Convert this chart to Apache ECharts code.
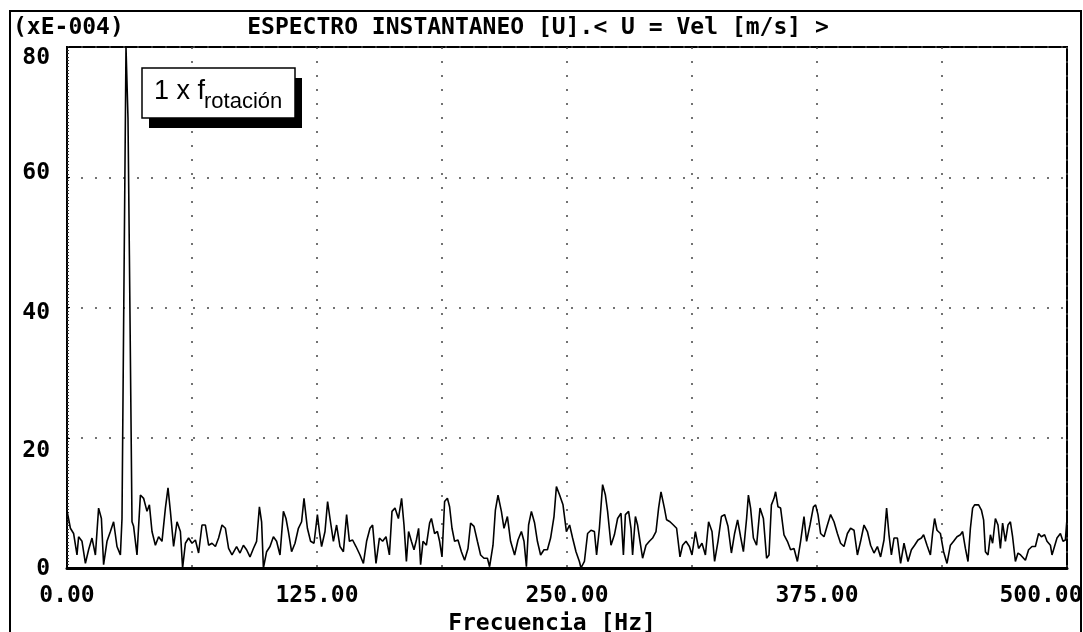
<!DOCTYPE html>
<html><head><meta charset="utf-8">
<script src="https://cdn.jsdelivr.net/npm/echarts@6/dist/echarts.min.js"></script>
<style>html,body{margin:0;padding:0;background:#fff}#c{width:1083px;height:632px}</style>
</head><body><div id="c"></div>
<script>
const titleText = 'ESPECTRO INSTANTANEO [U].< U = Vel [m/s] >';
const yUnitLabel = '(xE-004)';
const xAxisName = 'Frecuencia [Hz]';
const annotationMain = '1 x f';
const annotationSub = 'rotación';
const xTickLabels = [0, 125, 250, 375, 500];
const yTickLabels = [0, 20, 40, 60, 80];

const freqs = [
  0, 1.7, 3.3, 5, 5.8, 7.5, 9.2, 10.8, 12.5, 14.2, 15.8, 17.2, 18.3, 20, 21.7, 23.3, 25, 26.7, 27.5,
  28.3, 29.5, 30.5, 31.2, 32.5, 33.3, 35, 36.7, 38.3, 40, 41.2, 42.5, 44.2, 45.8, 47.5, 49.2, 50.5,
  51.7, 53.3, 55, 56.7, 57.8, 59.2, 60.8, 62.5, 64.2, 65.8, 67.5, 69.2, 70.8, 72.5, 74.2, 75.8, 77.5,
  79.2, 80.8, 82.5, 84.8, 86.5, 88.2, 89.8, 91.5, 93.2, 94.8, 96.2, 97.3, 98.2, 99.8, 101.5, 103.2,
  104.8, 106.5, 108.2, 109.5, 110.7, 112.3, 114, 115.7, 117.3, 118.5, 120.2, 121.8, 123.5, 125.2,
  126.2, 127.3, 129, 130.3, 131.5, 133.2, 134.8, 136.5, 138.2, 139.8, 141.2, 142.8, 144.5, 146.5,
  148.2, 149.8, 151.5, 152.8, 154.5, 156.2, 157.8, 159.5, 161.2, 162.5, 164, 165.7, 167.3, 168.5,
  169.7, 170.8, 172.2, 173.5, 174.7, 175.8, 176.8, 178, 179.7, 181.3, 182.2, 183.8, 185.2, 186.3,
  187.5, 188.8, 190.2, 191.3, 192.5, 193.8, 195.5, 197.2, 198.8, 200.5, 201.8, 203.5, 205.2, 206.8,
  208.5, 210.2, 211.3, 213, 214.2, 215.5, 217.2, 218.5, 220.2, 221.8, 223.8, 225.5, 227.2, 228.5,
  229.7, 230.8, 232.2, 233.8, 235.2, 236.8, 238.5, 240.2, 241.8, 243.5, 244.7, 246.3, 248, 249.7,
  251.3, 252.8, 254.5, 256.2, 257, 258.7, 260.3, 262, 263.7, 264.8, 266.2, 267.8, 269.2, 270.3, 272,
  273.7, 275.3, 277, 278.2, 279.2, 280.8, 282, 282.8, 284.2, 285.3, 286.5, 287.8, 289.5, 291.2,
  292.8, 294.5, 295.8, 297, 298.7, 299.8, 301.5, 303.2, 304.8, 306.5, 307.8, 309.5, 311.2, 312.5,
  314.2, 315.8, 317.5, 319.2, 320.8, 322.5, 323.8, 325.5, 327.2, 328.8, 330.5, 332.2, 333.8, 335.3,
  336.8, 338.2, 339.8, 340.7, 341.8, 343.2, 344.8, 346.5, 348.2, 349.8, 351, 352.2, 353.5, 354.3,
  355.5, 356.8, 358.5, 360.2, 361.8, 363.5, 365.2, 366.8, 368.5, 369.8, 371.5, 373.2, 374.3, 375.5,
  376.8, 378.5, 380.2, 381.8, 383.5, 385.2, 386.8, 388.5, 390.2, 391.8, 393.5, 395.2, 396.8, 398.5,
  400.2, 401.8, 403.5, 405.2, 406.8, 408.5, 409.8, 411, 412.2, 413.5, 415.2, 416.8, 418.5, 420.5,
  422.2, 423.8, 425.5, 427.2, 428.3, 430, 431.7, 432.8, 433.8, 435, 436.7, 438.3, 440, 441.7, 443.3,
  445, 446.7, 447.8, 449.2, 450.5, 451.7, 452.8, 453.8, 455.8, 457.2, 458.3, 459.2, 460.5, 461.7,
  462.8, 464.2, 465.5, 466.7, 467.8, 469.2, 470.5, 471.7, 472.8, 474.2, 475.5, 476.8, 477.8, 479.2,
  480.8, 482.5, 484.2, 485.8, 487.2, 488.8, 490, 491.7, 492.5, 493.3, 495, 496.7, 498, 499.2, 500
];
const amps = [
  8.8, 6.1, 5.3, 2.0, 4.8, 4.1, 0.7, 2.8, 4.6, 2.0, 9.2, 7.6, 0.5, 4.1, 5.6, 7.1, 3.3, 2.0, 7.6,
  37, 80, 69, 48, 7.1, 6.4, 2.0, 11.2, 10.7, 8.7, 9.7, 5.6, 3.5, 4.8, 4.1, 9.2, 12.3,
  8.7, 3.3, 7.1, 5.6, 0, 3.8, 4.6, 3.8, 4.3, 2.3, 6.6, 6.6, 3.5, 3.8, 3.3, 4.6, 6.6,
  6.1, 3.0, 2.0, 3.3, 2.3, 3.5, 2.8, 1.7, 3.0, 4.1, 9.4, 7.1, 0, 2.5, 3.3, 4.8,
  4.1, 2.0, 8.7, 7.6, 5.6, 2.5, 3.8, 6.1, 7.1, 10.7, 6.1, 4.1, 3.8, 8.2,
  5.6, 3.3, 5.6, 10.2, 7.6, 4.1, 6.6, 3.3, 2.5, 8.2, 4.1, 4.3, 3.3, 2.0,
  0.7, 4.1, 6.1, 6.6, 0.7, 4.6, 4.1, 4.8, 2.0, 8.7, 9.2, 7.6, 10.7, 6.6,
  1.0, 5.6, 4.1, 2.8, 4.3, 6.1, 0.5, 4.1, 3.5, 6.9, 7.6, 5.3, 5.6, 4.1,
  1.7, 10.2, 10.7, 9.4, 6.1, 4.1, 4.3, 2.5, 1.2, 3.0, 6.9, 6.4, 4.1, 2.0,
  1.5, 1.5, 0.2, 3.5, 8.9, 11.2, 8.7, 6.1, 7.9, 4.1, 2.0, 4.3, 5.6, 4.1,
  0.2, 6.6, 8.7, 6.9, 4.1, 2.0, 2.8, 2.8, 4.6, 7.9, 12.5, 11.2, 9.7, 5.6,
  6.6, 4.6, 2.5, 1.0, 0, 1.0, 5.3, 5.8, 5.6, 2.0, 6.1, 12.8, 11.2, 8.7, 3.5,
  5.1, 7.6, 8.4, 2.0, 8.2, 8.7, 6.1, 2.0, 7.9, 6.6, 4.1, 1.5, 3.5, 4.1,
  4.6, 5.6, 9.2, 11.7, 9.2, 7.4, 7.1, 6.6, 6.1, 1.7, 3.5, 4.1, 3.3, 2.0,
  5.6, 3.0, 3.8, 2.0, 7.1, 5.6, 1.0, 4.1, 7.9, 8.2, 6.4, 2.3, 5.3, 7.4,
  4.8, 2.5, 7.6, 11.2, 9.2, 4.6, 3.5, 9.2, 7.6, 1.5, 2.0, 9.7, 10.7, 11.7,
  9.4, 9.2, 5.1, 4.1, 2.8, 3.0, 1.0, 4.1, 7.9, 4.1, 6.6, 9.4, 9.7, 8.2,
  5.3, 4.8, 6.6, 8.2, 7.1, 5.3, 3.8, 3.3, 5.3, 6.1, 5.8, 2.0, 4.1, 6.6,
  5.6, 3.5, 2.3, 3.3, 1.7, 4.3, 9.2, 5.1, 2.0, 4.6, 4.6, 0.7, 3.8, 1.0,
  2.8, 3.5, 4.3, 4.6, 5.1, 3.5, 2.0, 5.3, 7.6, 5.8, 5.3, 2.5, 0.7, 3.5, 4.1,
  4.8, 5.1, 5.6, 3.0, 1.0, 6.1, 9.2, 9.7, 9.7, 8.9, 7.4, 2.5, 2.0, 5.1,
  3.8, 7.6, 6.6, 3.0, 6.9, 4.1, 6.6, 7.1, 4.8, 1.0, 2.3, 2.0, 2.3, 1.2,
  2.8, 3.3, 3.3, 5.3, 4.8, 5.1, 4.1, 3.5, 2.0, 2.0, 4.6, 5.3, 4.1, 4.3, 7.6
];

const MONO = 'DejaVu Sans Mono';
const SANS = 'Liberation Sans';
const FS = 23;
const seriesData = freqs.map((f, i) => [f, amps[i]]);

// per-label vertical nudges to mimic the original printout's label placement
const yLabelRich = {
  l80: {padding: [22, 0, 0, 0]},
  l60: {padding: [0, 0, 8, 0]},
  l40: {padding: [12, 0, 0, 0]},
  l20: {padding: [26, 0, 0, 0]},
  l0: {padding: [2, 0, 0, 0]}
};
Object.values(yLabelRich).forEach(s => Object.assign(s, {fontFamily: MONO, fontWeight: 'bold', fontSize: FS, color: '#000'}));

const chart = echarts.init(document.getElementById('c'), null, {renderer: 'canvas'});
chart.setOption({
  backgroundColor: '#fff',
  animation: false,
  title: {
    text: titleText, left: 538, top: 17, textAlign: 'center', padding: 0,
    textStyle: {fontFamily: MONO, fontWeight: 'bold', fontSize: FS, color: '#000'}
  },
  grid: {
    left: 67, right: 16, top: 47, bottom: 64, show: true, borderColor: '#000', borderWidth: 2,
    backgroundColor: '#fff', containLabel: false, outerBoundsMode: 'none'
  },
  xAxis: {
    type: 'value', min: 0, max: 500, interval: 62.5,
    name: xAxisName, nameLocation: 'middle', nameGap: 42,
    nameTextStyle: {fontFamily: MONO, fontWeight: 'bold', fontSize: FS, color: '#000', padding: [0, 30, 0, 0]},
    axisLine: {show: true, lineStyle: {color: '#000', width: 3}},
    axisTick: {show: false},
    axisLabel: {
      margin: 17, color: '#000', fontFamily: MONO, fontWeight: 'bold', fontSize: FS,
      formatter: v => xTickLabels.includes(v) ? (v === 500 ? '{r|' + v.toFixed(2) + '}' : v.toFixed(2)) : '',
      rich: {r: {fontFamily: MONO, fontWeight: 'bold', fontSize: FS, color: '#000', padding: [0, 52, 0, 0]}}
    },
    splitLine: {show: true, lineStyle: {color: '#444', width: 1.5, type: [2, 12]}}
  },
  yAxis: {
    type: 'value', min: 0, max: 80, interval: 20,
    axisLine: {show: true, lineStyle: {color: '#000', width: 2}},
    axisTick: {show: true, inside: true, length: 3, lineStyle: {color: '#000'}},
    minorTick: {show: true, splitNumber: 40, length: 2, lineStyle: {color: '#333'}},
    axisLabel: {
      margin: 17, color: '#000', fontFamily: MONO, fontWeight: 'bold', fontSize: FS,
      formatter: v => yTickLabels.includes(v) ? '{l' + v + '|' + v + '}' : '',
      rich: yLabelRich
    },
    splitLine: {show: true, lineStyle: {color: '#444', width: 1.5, type: [2, 12]}}
  },
  series: [{
    type: 'line', data: seriesData, showSymbol: false, clip: true,
    lineStyle: {color: '#000', width: 1.6}, z: 3
  }],
  graphic: [
    {type: 'rect', shape: {x: 10, y: 11, width: 1071, height: 660}, style: {fill: 'none', stroke: '#000', lineWidth: 2}, z: 10, silent: true},
    {type: 'text', x: 13, y: 28, style: {text: yUnitLabel, fontFamily: MONO, fontWeight: 'bold', fontSize: FS, fill: '#000', verticalAlign: 'middle', align: 'left'}, z: 10},
    {type: 'rect', shape: {x: 149, y: 78, width: 153, height: 50}, style: {fill: '#000'}, z: 20},
    {type: 'rect', shape: {x: 142, y: 68, width: 153, height: 50}, style: {fill: '#fff', stroke: '#000', lineWidth: 1.5}, z: 21},
    {type: 'text', x: 154, y: 92, style: {text: annotationMain, fontFamily: SANS, fontSize: 27, fill: '#000', verticalAlign: 'middle', align: 'left'}, z: 22},
    {type: 'text', x: 204, y: 102, style: {text: annotationSub, fontFamily: SANS, fontSize: 22, fill: '#000', verticalAlign: 'middle', align: 'left'}, z: 22}
  ]
});
</script>
</body></html>
